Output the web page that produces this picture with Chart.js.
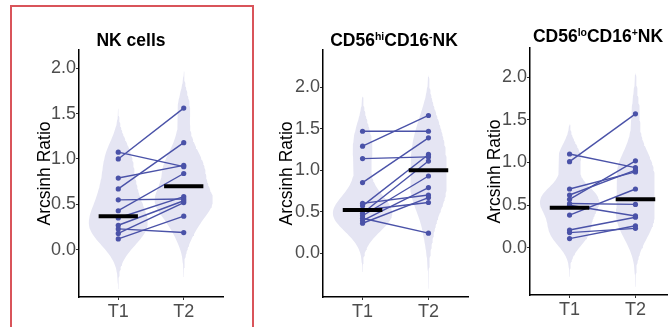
<!DOCTYPE html>
<html>
<head>
<meta charset="utf-8">
<script src="https://cdn.jsdelivr.net/npm/chart.js@4.4.1/dist/chart.umd.min.js"></script>
<style>
  html, body { margin: 0; padding: 0; background: #fff; overflow: hidden; }
  #wrap { position: relative; width: 668px; height: 327px; overflow: hidden; }
  canvas { position: absolute; top: 0; }
  #box { position: absolute; left: 10px; top: 5px; width: 240px; height: 340px; border: 2px solid #d9545a; pointer-events: none; }
</style>
</head>
<body>
<div id="wrap">
  <canvas id="c1" width="252" height="327" style="left:0px"></canvas>
  <canvas id="c2" width="220" height="327" style="left:260px"></canvas>
  <canvas id="c3" width="210" height="327" style="left:470px"></canvas>
  <div id="box"></div>
</div>
<script>
// Dados (pares T1 -> T2 pelo índice)
const xLabels = ['T1', 'T2'];
const yTicks = [0, 0.5, 1.0, 1.5, 2.0];
const yTitle = 'Arcsinh Ratio';

// NK cells
const nkTitle = [['NK cells', 0]];
const nkT1 = [1.075, 1.00, 0.79, 0.67, 0.55, 0.43, 0.35, 0.27, 0.23, 0.18, 0.12];
const nkT2 = [0.915, 1.56, 0.93, 1.18, 0.56, 0.84, 0.585, 0.54, 0.19, 0.52, 0.37];
const nkMid = [0.37, 0.70];

// CD56hi CD16- NK
const hiTitle = [['CD56', 0], ['hi', 1], ['CD16', 0], ['-', 1], ['NK', 0]];
const hiT1 = [1.47, 1.29, 1.14, 0.85, 0.60, 0.57, 0.52, 0.48, 0.45, 0.42, 0.39, 0.36];
const hiT2 = [1.47, 1.66, 1.16, 1.39, 0.70, 1.19, 0.61, 1.11, 0.93, 0.24, 0.79, 0.67];
const hiMid = [0.52, 1.00];

// CD56lo CD16+ NK
const loTitle = [['CD56', 0], ['lo', 1], ['CD16', 0], ['+', 1], ['NK', 0]];
const loT1 = [1.10, 1.01, 0.69, 0.62, 0.57, 0.52, 0.50, 0.385, 0.21, 0.18, 0.11];
const loT2 = [0.94, 1.57, 0.89, 0.91, 1.02, 0.51, 0.375, 0.69, 0.36, 0.23, 0.26];
const loMid = [0.47, 0.57];

const FONT = '"Liberation Sans", Arial, sans-serif';
const VIOLIN = '#e5e5f3';
const BLUE = '#4a52a8';

// Bandwidth nrd0 (igual ao R / ggplot)
function bwNrd0(v) {
    const n = v.length;
    const mean = v.reduce((a, b) => a + b, 0) / n;
    const sd = Math.sqrt(v.reduce((a, b) => a + (b - mean) ** 2, 0) / (n - 1));
    const s = [...v].sort((a, b) => a - b);
    const q = p => {
        const h = (n - 1) * p, lo = Math.floor(h);
        const hiV = lo + 1 < n ? s[lo + 1] : s[lo];
        return s[lo] + (h - lo) * (hiV - s[lo]);
    };
    const iqr = (q(0.75) - q(0.25)) / 1.34;
    return 0.9 * Math.min(sd, iqr) * Math.pow(n, -0.2);
}

// Densidade gaussiana dos próprios pontos (violino, cut = 3)
function density(v) {
    const bw = bwNrd0(v);
    const lo = Math.min(...v) - 3 * bw, hi = Math.max(...v) + 3 * bw;
    const out = [];
    for (let i = 0; i <= 120; i++) {
        const y = lo + (hi - lo) * i / 120;
        let d = 0;
        v.forEach(x => { const z = (y - x) / bw; d += Math.exp(-z * z / 2); });
        out.push({ y, d: d / (v.length * bw * Math.sqrt(2 * Math.PI)) });
    }
    return out;
}

function violinOutline(dens, center, dmax) {
    const right = dens.map(p => ({ x: center + 0.45 * p.d / dmax, y: p.y }));
    const left = dens.slice().reverse().map(p => ({ x: center - 0.45 * p.d / dmax, y: p.y }));
    return right.concat(left);
}

const titlePlugin = {
    id: 'panelTitle',
    afterDraw(chart, args, opts) {
        const ctx = chart.ctx;
        const big = 'bold 17.5px ' + FONT;
        const small = 'bold 10.5px ' + FONT;
        ctx.save();
        let w = 0;
        opts.parts.forEach(([t, sup]) => { ctx.font = sup ? small : big; w += ctx.measureText(t).width; });
        let x = opts.x - w / 2;
        ctx.fillStyle = '#000';
        ctx.textAlign = 'left';
        ctx.textBaseline = 'alphabetic';
        opts.parts.forEach(([t, sup]) => {
            ctx.font = sup ? small : big;
            ctx.fillText(t, x, sup ? opts.y - 6 : opts.y);
            x += ctx.measureText(t).width;
        });
        ctx.restore();
    }
};

function makePanel(id, t1, t2, mid, parts, lay) {
    const dens = [density(t1), density(t2)];
    const dmax = Math.max(...dens.flat().map(p => p.d));
    const datasets = [];

    dens.forEach((d, i) => {
        datasets.push({
            data: violinOutline(d, i + 1, dmax),
            fill: 'shape',
            backgroundColor: VIOLIN,
            borderColor: 'rgba(0,0,0,0)',
            borderWidth: 0,
            pointRadius: 0,
            tension: 0,
            order: 3
        });
    });

    t1.forEach((v, i) => {
        datasets.push({
            data: [{ x: 1, y: v }, { x: 2, y: t2[i] }],
            borderColor: BLUE,
            borderWidth: 1.4,
            pointRadius: 2.6,
            pointBackgroundColor: BLUE,
            pointBorderWidth: 0,
            order: 2
        });
    });

    mid.forEach((m, i) => {
        datasets.push({
            data: [{ x: i + 1 - 0.3, y: m }, { x: i + 1 + 0.3, y: m }],
            borderColor: '#000',
            borderWidth: 4,
            borderCapStyle: 'butt',
            pointRadius: 0,
            order: 1
        });
    });

    const axisGrid = { display: true, drawOnChartArea: false, drawTicks: true, tickLength: 3, tickColor: '#333', tickWidth: 1 };
    const axisBorder = { display: true, color: '#000', width: 1.5 };

    return new Chart(document.getElementById(id), {
        type: 'line',
        data: { datasets },
        plugins: [titlePlugin],
        options: {
            responsive: false,
            animation: false,
            events: [],
            layout: { padding: { top: lay.top, right: lay.right, bottom: 0, left: 0 } },
            plugins: {
                legend: { display: false },
                tooltip: { enabled: false },
                panelTitle: { parts, x: lay.titleX, y: lay.titleY }
            },
            scales: {
                x: {
                    type: 'linear',
                    min: 0.4,
                    max: 2.6,
                    afterBuildTicks: s => { s.ticks = [1, 2].map(v => ({ value: v })); },
                    afterFit: s => { s.height = lay.xHeight; },
                    grid: axisGrid,
                    border: axisBorder,
                    ticks: {
                        color: '#4d4d4d',
                        font: { size: 18, family: FONT },
                        padding: 1,
                        autoSkip: false,
                        maxRotation: 0,
                        callback: v => xLabels[v - 1]
                    }
                },
                y: {
                    min: lay.ymin,
                    max: lay.ymax,
                    afterBuildTicks: s => { s.ticks = yTicks.map(v => ({ value: v })); },
                    afterFit: s => { s.width = lay.yWidth; },
                    grid: axisGrid,
                    border: axisBorder,
                    ticks: {
                        color: '#4d4d4d',
                        font: { size: 18, family: FONT },
                        padding: 0,
                        callback: v => Number(v).toFixed(1)
                    },
                    title: {
                        display: true,
                        text: yTitle,
                        color: '#000',
                        font: { size: 17.5, family: FONT },
                        padding: { top: lay.titlePad, bottom: 0 }
                    }
                }
            }
        }
    });
}

makePanel('c1', nkT1, nkT2, nkMid, nkTitle,
    { top: 50, right: 29, xHeight: 30, yWidth: 79, ymin: -0.52, ymax: 2.2, titlePad: 34.5, titleX: 131, titleY: 46 });
makePanel('c2', hiT1, hiT2, hiMid, hiTitle,
    { top: 50, right: 12, xHeight: 30, yWidth: 63, ymin: -0.53, ymax: 2.45, titlePad: 16.5, titleX: 134, titleY: 46 });
makePanel('c3', loT1, loT2, loMid, loTitle,
    { top: 48, right: 5, xHeight: 32, yWidth: 60, ymin: -0.55, ymax: 2.34, titlePad: 14.5, titleX: 128, titleY: 42 });
</script>
</body>
</html>
